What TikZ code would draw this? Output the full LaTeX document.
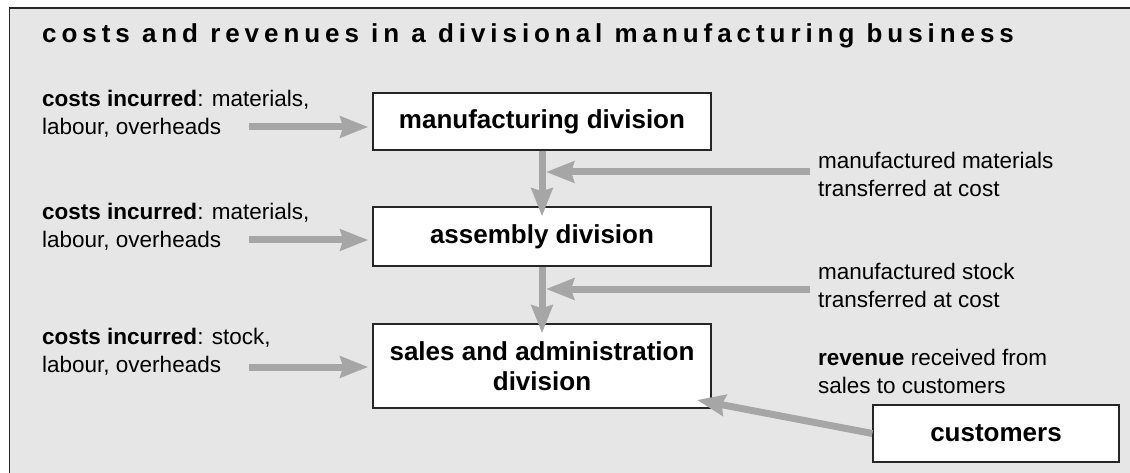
\documentclass[tikz,border=0pt]{standalone}
\usepackage{fontspec}
\setmainfont{Liberation Sans}
\usetikzlibrary{arrows.meta}
\definecolor{panelgray}{HTML}{E6E6E6}
\definecolor{flowgray}{HTML}{A6A6A6}
\definecolor{framegray}{HTML}{262626}

\begin{document}
\begin{tikzpicture}[x=1pt,y=-1pt,>={Stealth[length=28pt,width=21pt,inset=3pt]},
    division/.style={draw=framegray,line width=1.3pt,fill=white,align=center,inner sep=0pt,font=\fontsize{26}{30}\selectfont\bfseries},
    note/.style={anchor=west,align=left,inner sep=0pt,font=\fontsize{22.5}{28}\selectfont},
    flow/.style={->,draw=flowgray,line width=7pt}]
    \useasboundingbox (0,0) rectangle (1130,473);
    \fill[panelgray] (9.5,8) rectangle (1130,473);
    \draw[framegray,line width=1.5pt] (9.5,473)--(9.5,8)--(1130,8);
    \node[anchor=west,inner sep=0pt,font={\fontsize{26}{30}\selectfont\bfseries\addfontfeature{LetterSpace=19}}] (title) at (42,36) {costs and revenues in a divisional manufacturing business};
    \node[division,minimum width=338pt,minimum height=57pt] (mfg) at (542,121.5) {manufacturing division};
    \node[division,minimum width=338pt,minimum height=59pt] (asm) at (542,236.5) {assembly division};
    \node[division,minimum width=338pt,minimum height=84pt] (sales) at (542,366) {sales and administration\\division};
    \node[division,minimum width=246pt,minimum height=57pt] (cust) at (996,433.5) {customers};
    \node[note] (costa) at (42,114) {\textbf{costs incurred}: materials,\\labour, overheads};
    \node[note] (costb) at (42,227) {\textbf{costs incurred}: materials,\\labour, overheads};
    \node[note] (costc) at (42,352) {\textbf{costs incurred}: stock,\\labour, overheads};
    \node[note] (xfera) at (818,174.5) {manufactured materials\\transferred at cost};
    \node[note] (xferb) at (818,285.5) {manufactured stock\\transferred at cost};
    \node[note] (rev) at (818,371.5) {\textbf{revenue} received from\\sales to customers};
    \coordinate (ina) at (249,127);
    \coordinate (inb) at (249,240);
    \coordinate (inc) at (249,367);
    \coordinate (outa) at (810,172);
    \coordinate (outb) at (810,289);
    \coordinate (revin) at (697,400);
    \draw[flow,shorten >=4pt] (ina)--(ina-|mfg.west);
    \draw[flow,shorten >=4pt] (inb)--(inb-|asm.west);
    \draw[flow,shorten >=4pt] (inc)--(inc-|sales.west);
    \draw[flow,shorten >=-10pt] (mfg)--(asm);
    \draw[flow,shorten >=-10pt] (asm)--(sales);
    \draw[flow,shorten >=4pt] (outa)--(outa-|mfg.south);
    \draw[flow,shorten >=4pt] (outb)--(outb-|asm.south);
    \draw[flow] (cust.west)--(revin);
\end{tikzpicture}
\end{document}
